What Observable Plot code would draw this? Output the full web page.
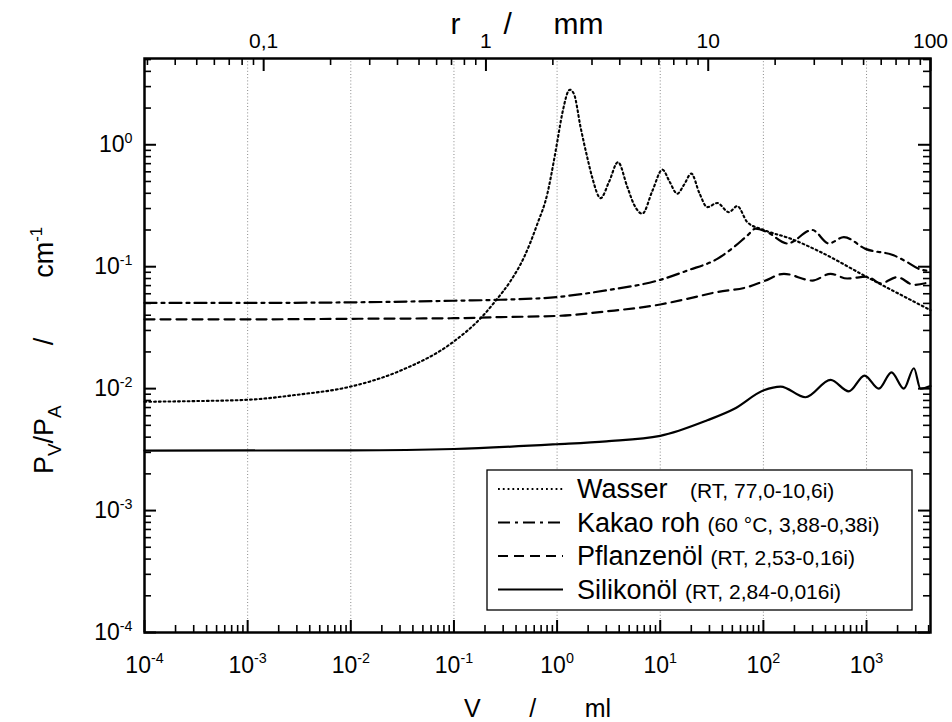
<!DOCTYPE html>
<html><head><meta charset="utf-8">
<script src="https://cdn.jsdelivr.net/npm/d3@7"></script>
<script src="https://cdn.jsdelivr.net/npm/@observablehq/plot@0.6"></script>
<style>
body{margin:0;background:#fff;overflow:hidden}
#chart{line-height:0}
svg text{font-family:"Liberation Sans",Arial,sans-serif}
</style>
</head><body><div id="chart"></div>
<script>
// ---- data ----
const seriesNames = ["Wasser", "Kakao roh", "Pflanzenöl", "Silikonöl"];
const seriesNotes = ["(RT, 77,0-10,6i)", "(60 °C, 3,88-0,38i)", "(RT, 2,53-0,16i)", "(RT, 2,84-0,016i)"];

const wasserV = [1e-4, 3e-4, 1e-3, 3e-3, 1e-2, 3e-2, 0.1, 0.188, 0.254, 0.355, 0.477, 0.643, 0.803, 0.931, 1.0, 1.12, 1.33, 1.46, 1.69, 1.96, 2.19, 2.64, 3.2, 3.89, 4.8, 5.6, 6.7, 8.4, 10.5, 12.3, 14.6, 17, 20, 24, 28.6, 35.7, 46.3, 55.8, 69.8, 101, 183, 358, 1016, 4170];
const wasserP = [0.0078, 0.0079, 0.0081, 0.0089, 0.0104, 0.014, 0.0244, 0.039, 0.0526, 0.0767, 0.119, 0.224, 0.394, 0.74, 1.04, 1.79, 2.83, 2.6, 1.39, 0.79, 0.54, 0.365, 0.5, 0.72, 0.45, 0.32, 0.272, 0.42, 0.625, 0.5, 0.397, 0.47, 0.58, 0.4, 0.308, 0.333, 0.28, 0.314, 0.232, 0.2, 0.17, 0.132, 0.082, 0.044];

const kakaoV = [1e-4, 1e-3, 1e-2, 0.1, 0.284, 1, 3, 10, 18.3, 35.7, 51.8, 69.8, 84, 109, 170, 298, 431, 603, 977, 1830, 2480, 3210, 4170];
const kakaoP = [0.0505, 0.0505, 0.051, 0.0526, 0.0536, 0.0564, 0.064, 0.078, 0.093, 0.116, 0.145, 0.18, 0.205, 0.192, 0.155, 0.2, 0.155, 0.175, 0.14, 0.124, 0.109, 0.096, 0.092];

const pflanzV = [1e-4, 1e-3, 1e-2, 0.1, 0.284, 1, 3, 10, 18.3, 35.7, 69.8, 101, 158, 298, 448, 650, 1016, 1368, 1986, 2880, 4170];
const pflanzP = [0.037, 0.037, 0.0374, 0.0378, 0.0386, 0.0395, 0.043, 0.049, 0.0545, 0.062, 0.068, 0.076, 0.0875, 0.077, 0.0875, 0.08, 0.083, 0.073, 0.082, 0.071, 0.075];

const siliV = [1e-4, 1e-2, 0.1, 1, 3, 10, 28.6, 51.8, 101, 147, 256, 448, 674, 957, 1316, 1746, 2300, 2880, 3336, 4170];
const siliP = [0.0031, 0.00312, 0.0032, 0.0035, 0.0037, 0.0041, 0.0055, 0.0068, 0.0097, 0.0104, 0.0085, 0.0118, 0.0095, 0.0128, 0.01, 0.0136, 0.01, 0.0147, 0.01, 0.0105];

const xTickExps = [-4, -3, -2, -1, 0, 1, 2, 3];
const yTickExps = [-4, -3, -2, -1, 0];
const rTicks = [0.1, 1, 10, 100];
const rTickLabels = ["0,1", "1", "10", "100"];
const xDomain = [1e-4, 4170];
const yDomain = [1e-4, 5.1];
const rDomain = [0.0291, 100];
const NB = n => "\u00a0".repeat(n);
const xTitle = "V" + NB(7) + "/" + NB(7) + "ml";
const yTitle = "P_{V}/P_{A}" + NB(8) + "/" + NB(8) + "cm^{-1}";
const rTitleA = "r";
const rTitleB = "/" + NB(5) + "mm";

// ---- styles ----
const seriesDash = ["1.8,3", "12,5,3,5", "10,6", null];
const seriesWidth = [2.1, 2.2, 2.2, 2.2];
const W = 952, H = 722, mL = 144, mR = 22, mT = 58, mB = 90;
const plotW = W - mL - mR, plotH = H - mT - mB;

const Vs = [wasserV, kakaoV, pflanzV, siliV];
const Ps = [wasserP, kakaoP, pflanzP, siliP];
const tables = Vs.map((v, i) => v.map((V, j) => ({V, P: Ps[i][j]})));

const L = Math.log10;
const rToV = r => 10 ** (L(xDomain[0]) + (L(r) - L(rDomain[0])) / (L(rDomain[1]) - L(rDomain[0])) * (L(xDomain[1]) - L(xDomain[0])));

const xMajor = xTickExps.map(e => 10 ** e);
const xMinor = xTickExps.flatMap(e => d3.range(2, 10).map(m => m * 10 ** e)).filter(v => v <= xDomain[1]);
const yMajor = yTickExps.map(e => 10 ** e);
const yMinor = yTickExps.flatMap(e => d3.range(2, 10).map(m => m * 10 ** e)).filter(v => v <= yDomain[1]);
const rMinor = [-2, -1, 0, 1].flatMap(e => d3.range(2, 10).map(m => m * 10 ** e)).filter(r => r > rDomain[0] && r < rDomain[1]);
const grid = xMajor.slice(1);

const svg = Plot.plot({
  width: W, height: H,
  marginLeft: mL, marginRight: mR, marginTop: mT, marginBottom: mB,
  x: {type: "log", domain: xDomain, axis: null},
  y: {type: "log", domain: yDomain, axis: null},
  style: {background: "white", fontFamily: "Liberation Sans, Arial, sans-serif", color: "black", display: "block"},
  marks: [
    Plot.ruleX(grid, {x: d => d, stroke: "#8a8a8a", strokeWidth: 1, strokeDasharray: "1,2.2"}),
    ...tables.map((t, i) => Plot.line(t, {x: "V", y: "P", curve: "monotone-x", stroke: "black",
      strokeWidth: seriesWidth[i], strokeDasharray: seriesDash[i] || undefined})),
    // bottom ticks
    Plot.ruleX(xMajor, {x: d => d, insetTop: plotH - 12, stroke: "black", strokeWidth: 2}),
    Plot.ruleX(xMinor, {x: d => d, insetTop: plotH - 7, stroke: "black", strokeWidth: 1.6}),
    // top ticks (r axis)
    Plot.ruleX(rTicks.map(rToV), {x: d => d, insetBottom: plotH - 13, stroke: "black", strokeWidth: 2}),
    Plot.ruleX(rMinor.map(rToV), {x: d => d, insetBottom: plotH - 7, stroke: "black", strokeWidth: 1.6}),
    // left and right ticks
    Plot.ruleY(yMajor, {y: d => d, insetRight: plotW - 12, stroke: "black", strokeWidth: 2}),
    Plot.ruleY(yMinor, {y: d => d, insetRight: plotW - 7, stroke: "black", strokeWidth: 1.6}),
    Plot.ruleY(yMajor, {y: d => d, insetLeft: plotW - 12, stroke: "black", strokeWidth: 2}),
    Plot.ruleY(yMinor, {y: d => d, insetLeft: plotW - 7, stroke: "black", strokeWidth: 1.6}),
    Plot.frame({stroke: "black", strokeWidth: 2.5}),
    // tick labels
    Plot.text(xTickExps, {x: e => 10 ** e, text: e => `10^{${e}}`, frameAnchor: "bottom", dy: 40,
      lineAnchor: "bottom", textAnchor: "middle", fontSize: 23, fill: "black"}),
    Plot.text(yTickExps, {y: e => 10 ** e, text: e => `10^{${e}}`, frameAnchor: "left", dx: -12,
      lineAnchor: "middle", textAnchor: "end", fontSize: 23, fill: "black"}),
    Plot.text(rTicks, {x: r => rToV(r), text: (r, i) => rTickLabels[i], frameAnchor: "top", dy: -11,
      lineAnchor: "bottom", textAnchor: "middle", fontSize: 21, fill: "black"}),
    // axis titles
    Plot.text([xTitle], {text: d => d, frameAnchor: "bottom", dy: 84, lineAnchor: "bottom",
      textAnchor: "middle", fontSize: 25, fill: "black"}),
    Plot.text([rTitleA], {text: d => d, frameAnchor: "top-left", dx: 450 - mL, dy: 33 - mT, lineAnchor: "bottom",
      textAnchor: "start", fontSize: 30, fill: "black"}),
    Plot.text([rTitleB], {text: d => d, frameAnchor: "top-left", dx: 503 - mL, dy: 33 - mT, lineAnchor: "bottom",
      textAnchor: "start", fontSize: 30, fill: "black"}),
    Plot.text([yTitle], {text: d => d, frameAnchor: "left", dx: 52 - mL, dy: 5, rotate: -90, lineAnchor: "bottom",
      textAnchor: "middle", fontSize: 27, fill: "black"})
  ]
});
document.getElementById("chart").appendChild(svg);

// rich text: ^{..} superscript, _{..} subscript
function rich(el) {
  const s = el.textContent;
  if (!/[_^]\{/.test(s)) return;
  const fs = parseFloat(getComputedStyle(el).fontSize) || 20;
  const parts = [];
  const re = /([_^])\{([^}]*)\}/g; let last = 0, m;
  while ((m = re.exec(s))) {
    if (m.index > last) parts.push({t: s.slice(last, m.index), k: ""});
    parts.push({t: m[2], k: m[1]});
    last = re.lastIndex;
  }
  if (last < s.length) parts.push({t: s.slice(last), k: ""});
  el.textContent = "";
  let cur = 0;
  for (const p of parts) {
    const ts = document.createElementNS("http://www.w3.org/2000/svg", "tspan");
    const shift = p.k === "^" ? -0.4 * fs : p.k === "_" ? 0.3 * fs : 0;
    ts.setAttribute("dy", (shift - cur).toFixed(2));
    cur = shift;
    if (p.k) ts.setAttribute("font-size", (fs * (p.k === "^" ? 0.62 : 0.7)).toFixed(1));
    ts.textContent = p.t;
    el.appendChild(ts);
  }
}
svg.querySelectorAll("text").forEach(rich);

// legend
const lg = d3.select(svg).append("g")
  .attr("font-family", "Liberation Sans, Arial, sans-serif")
  .attr("text-anchor", "start");
lg.append("rect").attr("x", 487).attr("y", 470).attr("width", 425).attr("height", 140)
  .attr("fill", "white").attr("stroke", "black").attr("stroke-width", 1.3);
seriesNames.forEach((n, i) => {
  const base = 498 + i * 33.5;
  lg.append("line").attr("x1", 498).attr("x2", 563).attr("y1", base - 9).attr("y2", base - 9)
    .attr("stroke", "black").attr("stroke-width", seriesWidth[i])
    .attr("stroke-dasharray", seriesDash[i] || null);
  const t = lg.append("text").attr("x", 577).attr("y", base).attr("font-size", 27)
    .attr("fill", "black").attr("text-anchor", "start");
  t.append("tspan").text(n + (i === 0 ? NB(3) : NB(1)));
  t.append("tspan").attr("font-size", 21).text(seriesNotes[i]);
});
</script>
</body></html>
